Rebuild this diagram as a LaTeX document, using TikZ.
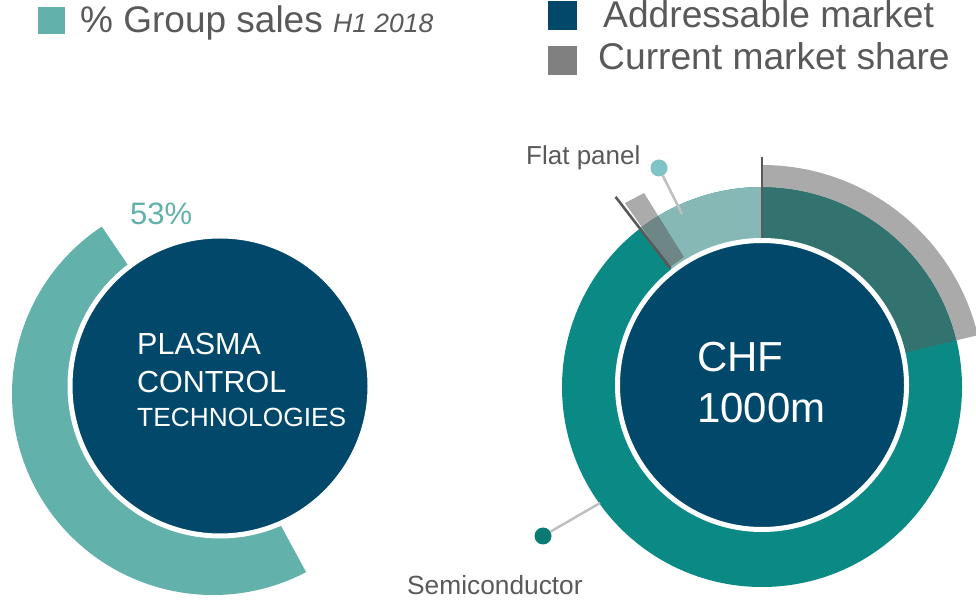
\documentclass[tikz,border=0pt]{standalone}
\usepackage{fontspec}
\setmainfont{Liberation Sans}

\definecolor{navy}{HTML}{02486A}
\definecolor{salesteal}{HTML}{62B1AA}
\definecolor{mainteal}{HTML}{0B8A85}
\definecolor{flatteal}{HTML}{86B9B6}
\definecolor{addrteal}{HTML}{33736F}
\definecolor{sharegray}{HTML}{AAAAAA}
\definecolor{legendgray}{HTML}{808080}
\definecolor{textgray}{HTML}{595959}
\definecolor{rulegray}{HTML}{595959}
\definecolor{leadergray}{HTML}{C0C0C0}
\definecolor{fpdotcol}{HTML}{7FC3C6}
\definecolor{scdotcol}{HTML}{0C7A72}
\definecolor{barshade}{HTML}{575757}

\tikzset{
  disc/.style={circle, fill=navy, draw=white, line width=5pt, inner sep=0pt},
  txt/.style={inner sep=0pt, anchor=base west, text=textgray},
  intxt/.style={inner sep=0pt, anchor=base west, text=white},
  legendsq/.style={inner sep=0pt, minimum size=#1},
  dot/.style={circle, inner sep=0pt, minimum size=17pt},
  leader/.style={draw=leadergray, line width=2.5pt},
  divider/.style={draw=rulegray, line width=2.6pt},
}

\begin{document}
\begin{tikzpicture}[x=1pt,y=1pt]
\useasboundingbox (0,0) rectangle (976,599);
\clip (0,0) rectangle (976,599);

% ---- legends ----
\node[legendsq=27pt, fill=salesteal] (lgsales) at (51.5,578.5) {};
\node[txt, font=\fontsize{37}{42}\selectfont] (lgsalestxt) at (80,566)
  {\% Group sales {\fontsize{26.5}{30}\selectfont\itshape H1 2018}};
\node[legendsq=29pt, fill=navy] (lgaddr) at (562.5,583.5) {};
\node[txt, font=\fontsize{37.2}{42}\selectfont] (lgaddrtxt) at (603,571) {Addressable market};
\node[legendsq=29pt, fill=legendgray] (lgshare) at (562.5,538.5) {};
\node[txt, font=\fontsize{37.2}{42}\selectfont] (lgsharetxt) at (598,529) {Current market share};

% ---- group sales ring ----
\fill[salesteal]
  ({213+201*cos(123.6)},{205+201*sin(123.6)})
  arc[start angle=123.6, end angle=297.6, radius=201]
  -- ({220+151*cos(293.5)},{213+151*sin(293.5)})
  arc[start angle=293.5, end angle=127.3, radius=151] -- cycle;

\node[disc, minimum size=300pt] (plasma) at (220,213) {};
\node[txt, text=salesteal, font=\fontsize{31}{36}\selectfont] (pct) at (130,374) {53\%};
\node[intxt, font=\fontsize{30.5}{36}\selectfont] (pl1) at (137,244) {PLASMA};
\node[intxt, font=\fontsize{30.5}{36}\selectfont] (pl2) at (137,206) {CONTROL};
\node[intxt, font=\fontsize{26.3}{30}\selectfont] (pl3) at (137,172) {TECHNOLOGIES};

% ---- addressable market ring ----
\begin{scope}[shift={(762,212)}]
  \fill[mainteal] (0,0) circle[radius=200];
  \fill[flatteal] (0,0) -- (90:200) arc[start angle=90, end angle=127.6, radius=200] -- cycle;
  \fill[addrteal] (0,0) -- (13.5:200) arc[start angle=13.5, end angle=90, radius=200] -- cycle;
  \fill[sharegray] (13.5:200) -- (13.5:222)
    arc[start angle=13.5, end angle=90, radius=222]
    -- (90:200) arc[start angle=90, end angle=13.5, radius=200] -- cycle;
  \fill[barshade, fill opacity=0.5]
    (121:151.6) -- (127.5:151.2) -- (126.7:229.4) -- (121.3:227) -- cycle;
  \draw[divider] (90:148) -- (90:230);
  \draw[divider] (127.6:150) -- (127.6:240);
\end{scope}

\node[disc, minimum size=289pt] (market) at (762,214) {};
\node[intxt, font=\fontsize{42}{50}\selectfont] (chf) at (697,227) {CHF};
\node[intxt, font=\fontsize{42}{50}\selectfont] (amount) at (697,176) {1000m};

% ---- segment labels ----
\coordinate (fptip) at (682,385);
\node[dot, fill=fpdotcol] (fpdot) at (659,431) {};
\draw[leader] (fpdot) -- (fptip);
\node[txt, font=\fontsize{26}{30}\selectfont] (fplabel) at (526,434) {Flat panel};

\coordinate (sctip) at (600,96);
\node[dot, fill=scdotcol] (scdot) at (543,63) {};
\draw[leader] (scdot) -- (sctip);
\node[txt, font=\fontsize{26.3}{30}\selectfont] (sclabel) at (407,5) {Semiconductor};
\end{tikzpicture}
\end{document}
